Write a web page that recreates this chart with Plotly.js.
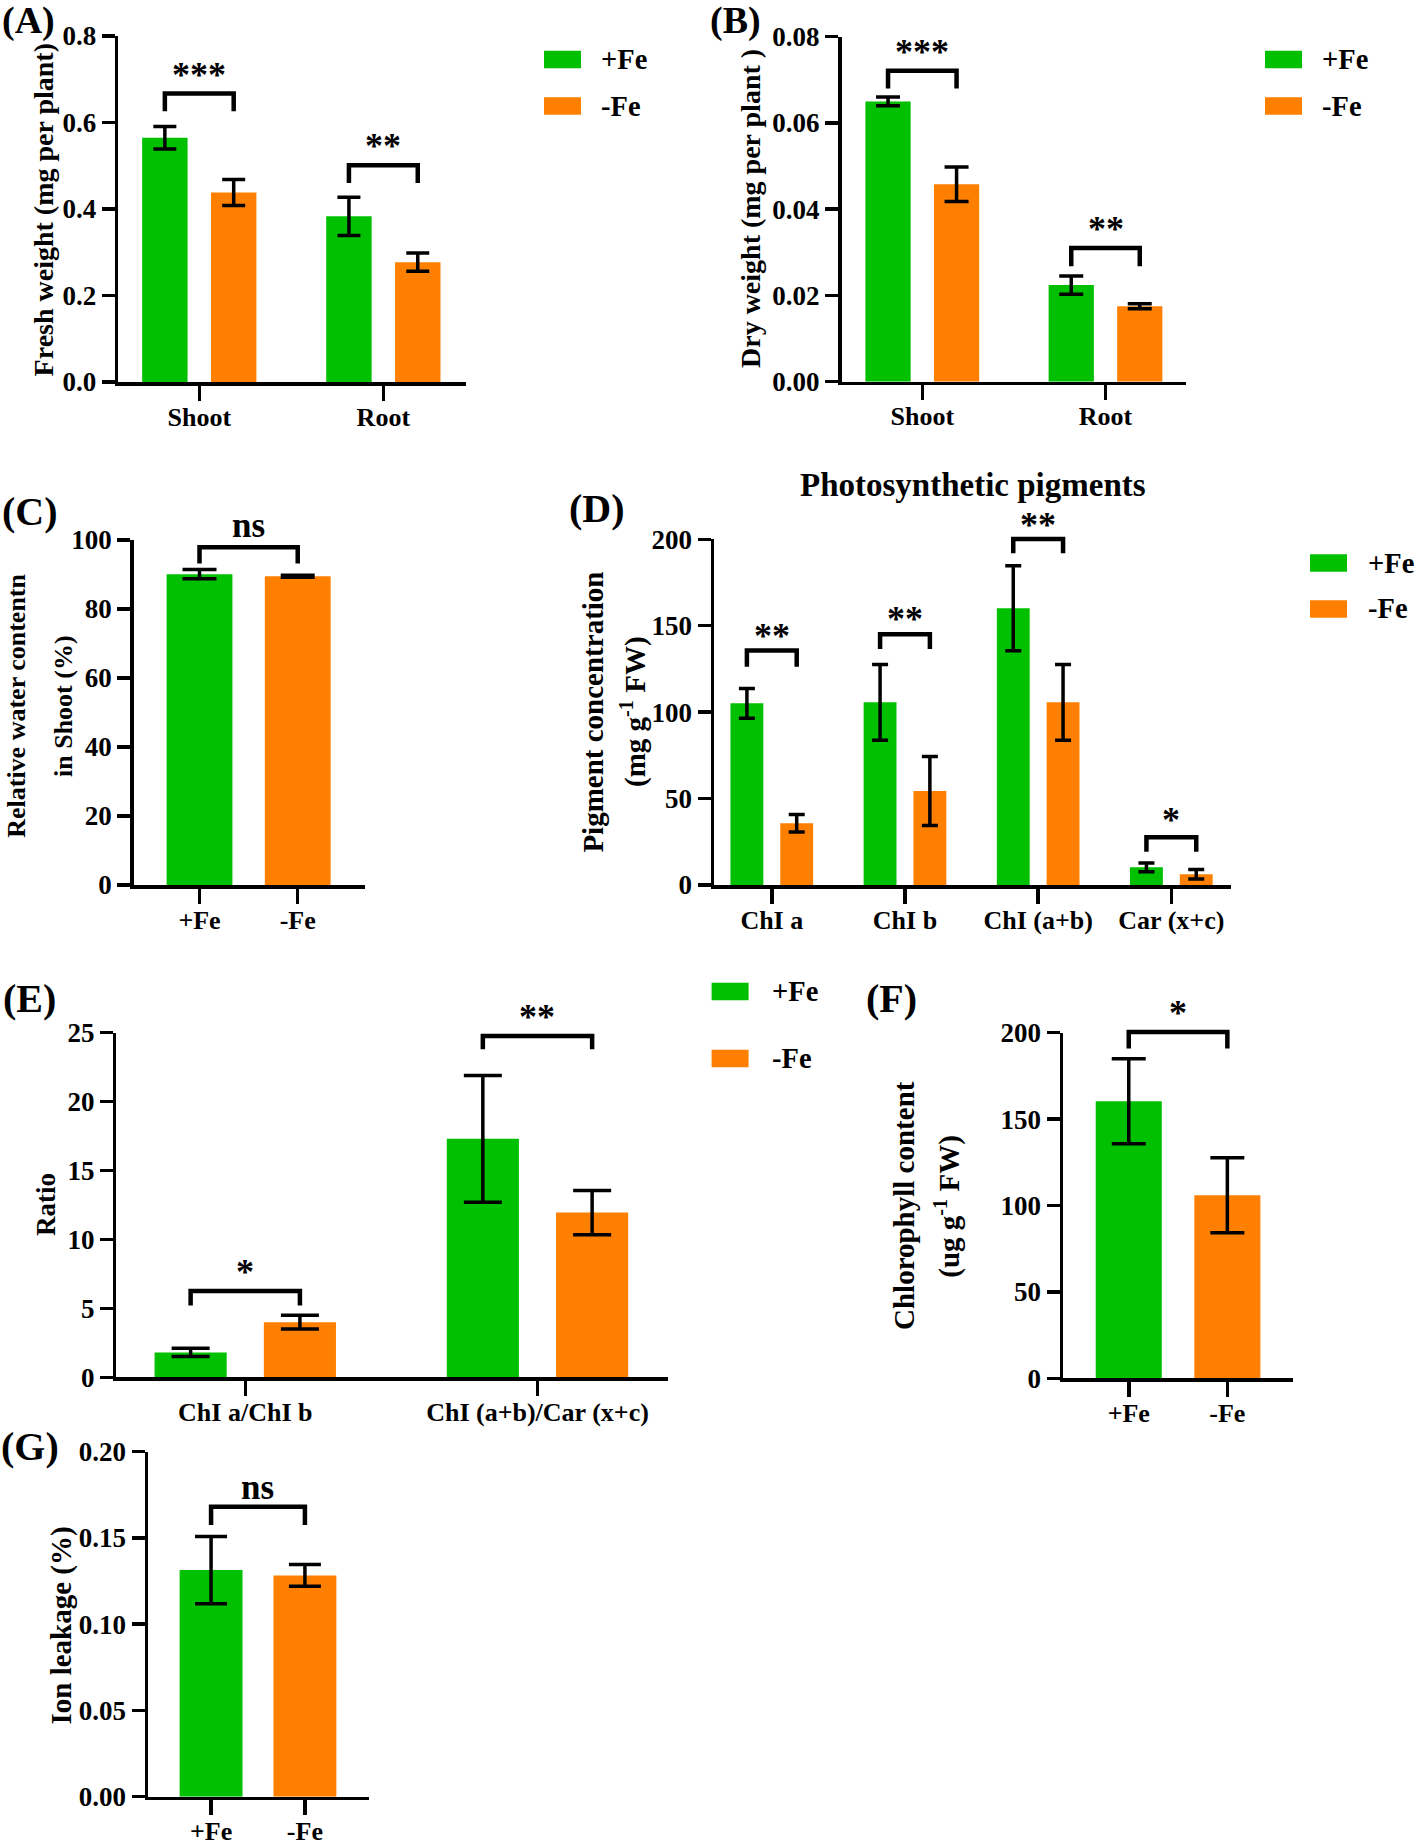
<!DOCTYPE html>
<html><head><meta charset="utf-8">
<script src="https://cdn.plot.ly/plotly-3.0.1.min.js"></script>
<style>body{margin:0;background:#fff}#chart{width:1417px;height:1842px}</style>
</head><body><div id="chart"></div>
<script>
// ---------- DATA ----------
const groupNames = ['+Fe', '-Fe'];

// (A) Fresh weight
const catsA = ['Shoot', 'Root'];
const plusA = [0.565, 0.383];
const plusAErr = [0.026, 0.044];
const minusA = [0.438, 0.277];
const minusAErr = [0.030, 0.021];
const sigA = ['***', '**'];

// (B) Dry weight
const catsB = ['Shoot', 'Root'];
const plusB = [0.0650, 0.0224];
const plusBErr = [0.0010, 0.0021];
const minusB = [0.0458, 0.0175];
const minusBErr = [0.0040, 0.0006];
const sigB = ['***', '**'];

// (C) Relative water content
const catsC = ['+Fe', '-Fe'];
const valC = [90.1, 89.5];
const errC = [1.35, 0.3];
const sigC = ['ns'];

// (D) Photosynthetic pigments
const catsD = ['ChI a', 'ChI b', 'ChI (a+b)', 'Car (x+c)'];
const plusD = [105.1, 105.7, 160.1, 10.2];
const plusDErr = [8.6, 21.9, 24.6, 2.5];
const minusD = [35.7, 54.4, 105.7, 6.2];
const minusDErr = [5.1, 20.0, 21.9, 2.8];
const sigD = ['**', '**', '**', '*'];

// (E) Ratios
const catsE = ['ChI a/ChI b', 'ChI (a+b)/Car (x+c)'];
const plusE = [1.8, 17.3];
const plusEErr = [0.3, 4.6];
const minusE = [4.0, 11.95];
const minusEErr = [0.5, 1.6];
const sigE = ['*', '**'];

// (F) Chlorophyll content
const catsF = ['+Fe', '-Fe'];
const valF = [160.3, 105.9];
const errF = [24.6, 21.7];
const sigF = ['*'];

// (G) Ion leakage
const catsG = ['+Fe', '-Fe'];
const valG = [0.1314, 0.1283];
const errG = [0.0195, 0.0063];
const sigG = ['ns'];

// ---------- STYLE / LAYOUT ----------
const W = 1417, H = 1842;
const GREEN = '#00C000', ORANGE = '#FF8000';
const FAM = '"Liberation Serif", "Times New Roman", serif';
const font = (s) => ({family: FAM, size: s, color: '#000', weight: 'bold'});

const layout = {
  width: W, height: H, margin: {l: 0, r: 0, t: 0, b: 0},
  paper_bgcolor: '#fff', plot_bgcolor: 'rgba(0,0,0,0)',
  barmode: 'group', bargap: 0.252, bargroupgap: 0.34,
  showlegend: false, shapes: [], annotations: [], font: font(26)
};
const traces = [];

function mapper(p) {
  return {
    x: v => (p.px[0] + (v - p.xr[0]) / (p.xr[1] - p.xr[0]) * (p.px[1] - p.px[0])) / W,
    y: v => 1 - (p.py[0] + v / p.ymax * (p.py[1] - p.py[0])) / H
  };
}

function addAxes(p, cats) {
  const s = p.s;
  layout['xaxis' + s] = {
    domain: [p.px[0] / W, p.px[1] / W], range: p.xr, anchor: 'y' + s,
    tickmode: 'array', tickvals: cats.map((_, i) => i), ticktext: cats,
    showline: true, linewidth: 3.5, linecolor: '#000',
    ticks: 'outside', ticklen: 15, tickwidth: 3.5, tickcolor: '#000',
    ticklabelstandoff: -6,
    showgrid: false, zeroline: false, tickfont: font(26), fixedrange: true
  };
  layout['yaxis' + s] = {
    domain: [1 - p.py[0] / H, 1 - p.py[1] / H], range: [0, p.ymax], anchor: 'x' + s,
    tickmode: 'linear', tick0: 0, dtick: p.dtick, tickformat: p.fmt,
    showline: true, linewidth: 3.5, linecolor: '#000',
    ticks: 'outside', ticklen: 13, tickwidth: 3.5, tickcolor: '#000',
    showgrid: false, zeroline: false, tickfont: font(27), fixedrange: true
  };
}

function errBar(arr, cap) {
  return {type: 'data', array: arr, visible: true, color: '#000', thickness: 3.5, width: cap};
}

function grouped(p, cats, plus, plusErr, minus, minusErr) {
  addAxes(p, cats);
  const idx = cats.map((_, i) => i);
  traces.push({type: 'bar', x: idx, y: plus, name: groupNames[0], marker: {color: GREEN},
    error_y: errBar(plusErr, p.cap), xaxis: 'x' + p.s, yaxis: 'y' + p.s});
  traces.push({type: 'bar', x: idx, y: minus, name: groupNames[1], marker: {color: ORANGE},
    error_y: errBar(minusErr, p.cap), xaxis: 'x' + p.s, yaxis: 'y' + p.s});
}

function single(p, cats, vals, errs) {
  addAxes(p, cats);
  traces.push({type: 'bar', x: cats.map((_, i) => i), y: vals, width: 0.67,
    marker: {color: [GREEN, ORANGE]}, error_y: errBar(errs, p.cap),
    xaxis: 'x' + p.s, yaxis: 'y' + p.s});
}

// brackets: [xa, xb, top, leg, label, shiftPx]
function brackets(p, list) {
  const m = mapper(p);
  list.forEach(b => {
    const [xa, xb, top, leg, lab, sh] = b;
    layout.shapes.push({type: 'path', xref: 'paper', yref: 'paper',
      path: `M${m.x(xa)},${m.y(leg)} L${m.x(xa)},${m.y(top)} L${m.x(xb)},${m.y(top)} L${m.x(xb)},${m.y(leg)}`,
      line: {color: '#000', width: 4.5}});
    layout.annotations.push({xref: 'paper', yref: 'paper', x: m.x((xa + xb) / 2), y: m.y(top),
      yanchor: 'middle', xanchor: 'center', yshift: sh, text: lab, showarrow: false,
      font: font(lab === 'ns' ? 35 : 36)});
  });
}

function legendBoxes(x0, yc1, yc2, tx) {
  [[yc1, GREEN, groupNames[0]], [yc2, ORANGE, groupNames[1]]].forEach(([yc, col, name]) => {
    layout.shapes.push({type: 'rect', xref: 'paper', yref: 'paper',
      x0: x0 / W, x1: (x0 + 37) / W, y0: 1 - (yc - 8.8) / H, y1: 1 - (yc + 8.8) / H,
      fillcolor: col, line: {width: 0}});
    layout.annotations.push({xref: 'paper', yref: 'paper', x: tx / W, y: 1 - yc / H,
      xanchor: 'left', yanchor: 'middle', text: name, showarrow: false, font: font(28.5)});
  });
}

function textAt(x, y, text, size, angle) {
  layout.annotations.push({xref: 'paper', yref: 'paper', x: x / W, y: 1 - y / H,
    xanchor: 'center', yanchor: 'middle', text: text, showarrow: false,
    textangle: angle || 0, font: font(size)});
}

const o = 0.187;
// Panel A
const pA = {s: '', px: [118.1, 465.8], py: [382, 36], xr: [-0.441, 1.448], ymax: 0.8, dtick: 0.2, fmt: '.1f', cap: 11.5};
grouped(pA, catsA, plusA, plusAErr, minusA, minusAErr);
brackets(pA, [[-o, o, 0.667, 0.626, sigA[0], 19], [1 - o, 1 + o, 0.501, 0.460, sigA[1], 19]]);
legendBoxes(544, 59.5, 106, 599);
// Panel B
const pB = {s: '2', px: [841.5, 1186.3], py: [381.7, 36.7], xr: [-0.441, 1.441], ymax: 0.08, dtick: 0.02, fmt: '.2f', cap: 12};
grouped(pB, catsB, plusB, plusBErr, minusB, minusBErr);
brackets(pB, [[-o, o, 0.0721, 0.068, sigB[0], 19], [1 - o, 1 + o, 0.031, 0.0268, sigB[1], 19]]);
legendBoxes(1265, 59.5, 106, 1320);
// Panel C
const pC = {s: '3', px: [133.7, 365.2], py: [885, 540], xr: [-0.67, 1.687], ymax: 100, dtick: 20, fmt: 'd', cap: 17};
single(pC, catsC, valC, errC);
brackets(pC, [[0, 1, 97.9, 93.2, sigC[0], 22]]);
// Panel D
const pD = {s: '4', px: [714, 1231.4], py: [885, 539.3], xr: [-0.434, 3.451], ymax: 200, dtick: 50, fmt: 'd', cap: 8};
grouped(pD, catsD, plusD, plusDErr, minusD, minusDErr);
brackets(pD, [[-o, o, 135.6, 126.3, sigD[0], 15], [1 - o, 1 + o, 145, 136.5, sigD[1], 15],
  [2 - o, 2 + o, 200.2, 191.9, sigD[2], 14], [3 - o, 3 + o, 27.6, 19.3, sigD[3], 17]]);
legendBoxes(1310, 563, 609, 1366);
textAt(973.2, 485, 'Photosynthetic pigments', 33);
// Panel E
const pE = {s: '5', px: [116.4, 668.4], py: [1377.3, 1032.7], xr: [-0.441, 1.448], ymax: 25, dtick: 5, fmt: 'd', cap: 19};
grouped(pE, catsE, plusE, plusEErr, minusE, minusEErr);
brackets(pE, [[-o, o, 6.26, 5.2, sigE[0], 19], [1 - o, 1 + o, 24.76, 23.8, sigE[1], 19]]);
legendBoxes(711.6, 991.5, 1058.5, 770);
// Panel F
const pF = {s: '6', px: [1063, 1293.4], py: [1378.3, 1032.7], xr: [-0.667, 1.67], ymax: 200, dtick: 50, fmt: 'd', cap: 17};
single(pF, catsF, valF, errF);
brackets(pF, [[0, 1, 200.4, 190.9, sigF[0], 19]]);
// Panel G
const pG = {s: '7', px: [148, 369.3], py: [1796.7, 1451.7], xr: [-0.672, 1.686], ymax: 0.2, dtick: 0.05, fmt: '.2f', cap: 16};
single(pG, catsG, valG, errG);
brackets(pG, [[0, 1, 0.1681, 0.1575, sigG[0], 19]]);

// Axis titles (rotated) and panel letters
textAt(43.4, 210, 'Fresh weight (mg per plant)', 28, -90);
textAt(750, 209, 'Dry weight (mg per plant )', 28, -90);
textAt(16.8, 706, 'Relative water contentn', 26, -90);
textAt(64, 706, 'in Shoot (%)', 26, -90);
textAt(592.6, 712, 'Pigment concentration', 29, -90);
textAt(634, 712, '(mg g<sup>-1</sup> FW)', 29, -90);
textAt(46, 1205, 'Ratio', 27, -90);
textAt(904, 1206, 'Chlorophyll content', 29, -90);
textAt(946.7, 1206, '(ug g<sup>-1</sup> FW)', 29, -90);
textAt(60.5, 1626, 'Ion leakage (%)', 29, -90);

textAt(28, 20, '(A)', 38);
textAt(735, 20, '(B)', 38);
textAt(30, 511, '(C)', 40);
textAt(597, 508, '(D)', 40);
textAt(29, 998, '(E)', 40);
textAt(891, 998, '(F)', 40);
textAt(30, 1446, '(G)', 40);

Plotly.newPlot('chart', traces, layout, {staticPlot: true, displayModeBar: false});
</script>
</body></html>
